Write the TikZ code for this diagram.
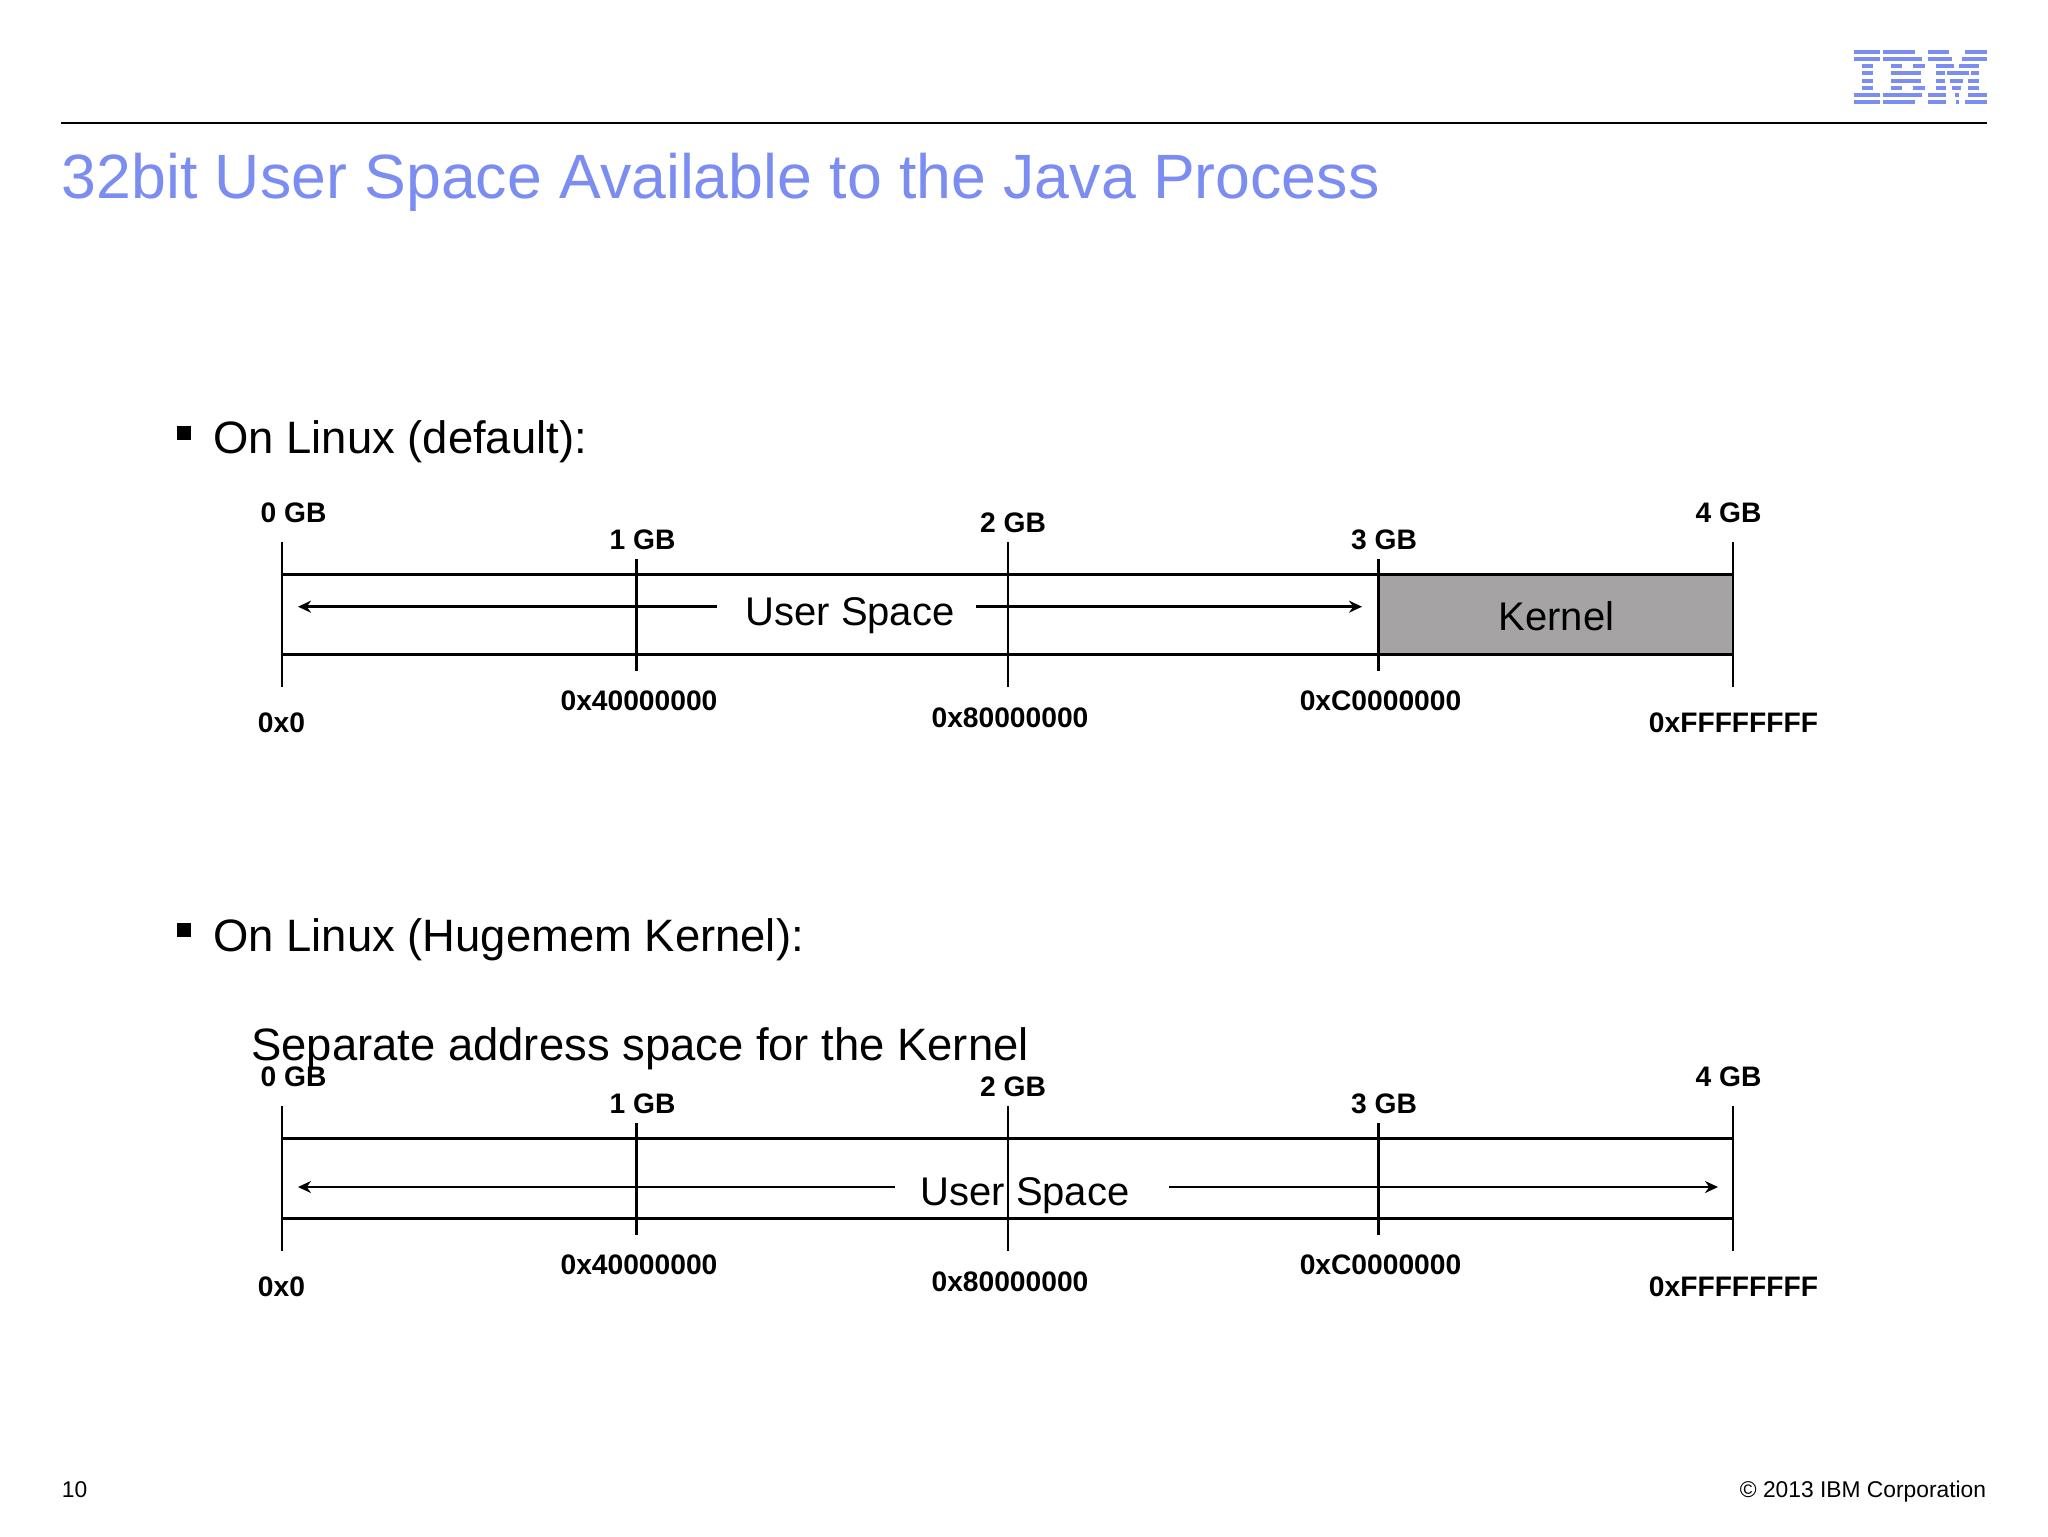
\documentclass[tikz,border=0pt]{standalone}
\usepackage{fontspec}
\setmainfont{Liberation Sans}
\usetikzlibrary{arrows.meta}
\definecolor{ibmblue}{HTML}{7C8DF2}
\definecolor{kernelgrey}{HTML}{A5A3A3}
\tikzset{
  x=0.5pt,y=-0.5pt,
  tick/.style={draw=black,line width=1.4pt},
  band/.style={draw=black,line width=1.5pt},
  span/.style={draw=black,line width=1.3pt,-{Stealth[length=6.5pt,width=6pt]}},
  gb/.style={anchor=base,inner sep=0pt,font=\fontsize{14.1}{16}\selectfont\bfseries},
  addr/.style={anchor=base,inner sep=0pt,font=\fontsize{14.1}{16}\selectfont\bfseries},
  inbar/.style={anchor=base,inner sep=0pt,font=\fontsize{20}{24}\selectfont},
  bodytext/.style={anchor=base west,inner sep=0pt,font=\fontsize{22.7}{26}\selectfont},
  foot/.style={inner sep=0pt,font=\fontsize{11.4}{14}\selectfont},
}
\newcommand{\memticks}[1]{%
  \begin{scope}[yshift=-#1*0.5pt]
    \foreach \n/\tx/\ttop/\tbot in {a/282/542/687,b/636.7/559/671,c/1008/542/687,d/1378.6/559/671,e/1733/542/687}{
      \coordinate (t\n#1) at (\tx,\ttop);
      \coordinate (u\n#1) at (\tx,\tbot);
      \draw[tick] (t\n#1) -- (u\n#1);
    }
    \coordinate (bl#1) at (282,574);\coordinate (br#1) at (1733,574);
    \coordinate (cl#1) at (282,654.5);\coordinate (cr#1) at (1733,654.5);
    \draw[band] (bl#1) -- (br#1);
    \draw[band] (cl#1) -- (cr#1);
    \node[gb] (gb0#1) at (293.5,522) {0 GB};
    \node[gb] (gb1#1) at (642.5,549) {1 GB};
    \node[gb] (gb2#1) at (1013,532) {2 GB};
    \node[gb] (gb3#1) at (1384,549) {3 GB};
    \node[gb] (gb4#1) at (1728.5,522) {4 GB};
    \node[addr] (ad0#1) at (281.5,732) {0x0};
    \node[addr] (ad1#1) at (639,710) {0x40000000};
    \node[addr] (ad2#1) at (1010,727) {0x80000000};
    \node[addr] (ad3#1) at (1380.5,710) {0xC0000000};
    \node[addr] (ad4#1) at (1733.5,732) {0xFFFFFFFF};
  \end{scope}}
\begin{document}
\begin{tikzpicture}
\useasboundingbox (0,0) rectangle (2048,1536);
\fill[white] (0,0) rectangle (2048,1536);
% IBM logo
\foreach \sy/\xa/\xb in {
  52.2/1854/1880, 59.3/1854/1880, 66/1861.7/1872.7, 73.3/1861.7/1872.7, 80.7/1861.7/1872.7, 87.7/1861.7/1872.7, 94.7/1854/1880, 101.7/1854/1880,
  52.2/1883/1915, 59.3/1883/1921.7, 66/1891/1901.7, 66/1912.7/1925, 73.3/1891/1920.7, 80.7/1891/1920.7, 87.7/1891/1901.7, 87.7/1912.7/1925, 94.7/1883/1921.7, 101.7/1883/1915,
  52.2/1928/1949, 52.2/1965/1987, 59.3/1928/1952, 59.3/1962/1987, 66/1935.7/1954, 66/1959/1979, 73.3/1935.7/1945, 73.3/1947/1969, 73.3/1971/1979,
  80.7/1935.7/1945, 80.7/1950/1963, 80.7/1968/1979, 87.7/1935.7/1946, 87.7/1952/1961, 87.7/1968/1979,
  94.7/1928/1946, 94.7/1955/1959, 94.7/1968/1987, 101.7/1928/1946, 101.7/1956/1958.5, 101.7/1965/1987}{
  \fill[ibmblue] (\xa,\sy-2) rectangle (\xb,\sy+2);
}
\coordinate (rulel) at (61,123);
\coordinate (ruler) at (1987,123);
\draw[black,line width=1.2pt] (rulel) -- (ruler);
\node[anchor=base west,inner sep=0pt,text=ibmblue,font=\fontsize{31.3}{36}\selectfont] (title) at (61.5,198.5) {32bit User Space Available to the Java Process};
% bullets
\fill[black] (177,426) rectangle (191,440);
\fill[black] (177,923) rectangle (191,937);
\node[bodytext] (h1) at (213,453) {On Linux (default):};
\node[bodytext] (h2) at (213,951) {On Linux (Hugemem Kernel):};
\node[bodytext] (h3) at (251,1060) {Separate address space for the Kernel};
% top map
\path[fill=kernelgrey] (1378.6,574) rectangle (1733,654.5);
\memticks{0}
\node[inbar] (us1) at (850,625) {User Space};
\node[inbar] (kern) at (1556.5,630) {Kernel};
\coordinate (a1l) at (717,606.7);\coordinate (a1lt) at (298,606.7);
\coordinate (a1r) at (976,606.7);\coordinate (a1rt) at (1362,606.7);
\draw[span] (a1l) -- (a1lt);
\draw[span] (a1r) -- (a1rt);
% bottom map
\memticks{564}
\node[inbar] (us2) at (1025,1205) {User Space};
\coordinate (a2l) at (895,1187);\coordinate (a2lt) at (298,1187);
\coordinate (a2r) at (1169,1187);\coordinate (a2rt) at (1718,1187);
\draw[span] (a2l) -- (a2lt);
\draw[span] (a2r) -- (a2rt);
% footer
\node[foot,anchor=base west] (pg) at (61.5,1497) {10};
\node[foot,anchor=base east] (copy) at (1986.5,1497) {© 2013 IBM Corporation};
\end{tikzpicture}
\end{document}
